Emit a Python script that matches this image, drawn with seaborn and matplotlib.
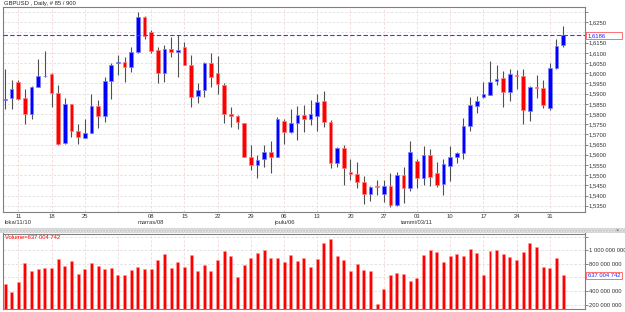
import numpy as np
import pandas as pd
import matplotlib
matplotlib.use("Agg")
import matplotlib.pyplot as plt
import matplotlib.patches as mpatches
import seaborn as sns

# ---------------- data ----------------
opens = [1.5867, 1.5877, 1.5959, 1.5877, 1.5800, 1.5933, 1.5985, 1.5995, 1.5905, 1.5656,
         1.5848, 1.5717, 1.5684, 1.5709, 1.5840, 1.5790, 1.5964, 1.6050, 1.6057, 1.6029,
         1.6106, 1.6278, 1.6204, 1.6114, 1.6003, 1.6119, 1.6106, 1.6127, 1.6041, 1.5889,
         1.5918, 1.6052, 1.6000, 1.5943, 1.5799, 1.5790, 1.5754, 1.5591, 1.5550, 1.5578,
         1.5612, 1.5591, 1.5768, 1.5712, 1.5754, 1.5795, 1.5776, 1.5792, 1.5864, 1.5763,
         1.5561, 1.5632, 1.5514, 1.5507, 1.5465, 1.5408, 1.5449, 1.5408, 1.5447, 1.5354,
         1.5501, 1.5439, 1.5571, 1.5488, 1.5599, 1.5509, 1.5455, 1.5545, 1.5591, 1.5607,
         1.5743, 1.5841, 1.5882, 1.5893, 1.5962, 1.5975, 1.5910, 1.5992, 1.5987, 1.5817,
         1.5931, 1.5926, 1.5828, 1.6024, 1.6139]
highs = [1.6021, 1.5967, 1.5967, 1.5921, 1.5938, 1.6068, 1.6109, 1.6000, 1.5943, 1.5879,
         1.5849, 1.5751, 1.5774, 1.5897, 1.5869, 1.5980, 1.6049, 1.6090, 1.6078, 1.6131,
         1.6299, 1.6283, 1.6212, 1.6131, 1.6139, 1.6180, 1.6188, 1.6155, 1.6090, 1.5951,
         1.6057, 1.6098, 1.6085, 1.5954, 1.5836, 1.5795, 1.5758, 1.5648, 1.5599, 1.5648,
         1.5669, 1.5787, 1.5774, 1.5823, 1.5840, 1.5843, 1.5869, 1.5897, 1.5915, 1.5771,
         1.5640, 1.5648, 1.5578, 1.5566, 1.5496, 1.5447, 1.5476, 1.5476, 1.5509, 1.5517,
         1.5542, 1.5668, 1.5578, 1.5645, 1.5628, 1.5563, 1.5578, 1.5643, 1.5615, 1.5779,
         1.5885, 1.5890, 1.5959, 1.6062, 1.6041, 1.6013, 1.6021, 1.6016, 1.6019, 1.5939,
         1.5992, 1.5967, 1.6052, 1.6167, 1.6232]
lows = [1.5826, 1.5823, 1.5869, 1.5751, 1.5774, 1.5931, 1.5980, 1.5835, 1.5648, 1.5653,
        1.5686, 1.5651, 1.5681, 1.5705, 1.5732, 1.5763, 1.5872, 1.5992, 1.5959, 1.6008,
        1.6101, 1.6167, 1.6101, 1.5951, 1.5959, 1.6082, 1.5983, 1.6039, 1.5836, 1.5853,
        1.5885, 1.5931, 1.5898, 1.5758, 1.5738, 1.5725, 1.5588, 1.5525, 1.5485, 1.5542,
        1.5512, 1.5588, 1.5653, 1.5709, 1.5673, 1.5714, 1.5746, 1.5718, 1.5738, 1.5534,
        1.5542, 1.5452, 1.5476, 1.5435, 1.5359, 1.5375, 1.5403, 1.5370, 1.5346, 1.5349,
        1.5365, 1.5424, 1.5435, 1.5452, 1.5447, 1.5444, 1.5403, 1.5473, 1.5558, 1.5579,
        1.5718, 1.5807, 1.5877, 1.5893, 1.5943, 1.5836, 1.5866, 1.5921, 1.5750, 1.5767,
        1.5880, 1.5828, 1.5820, 1.6021, 1.6127]
closes = [1.5874, 1.5925, 1.5874, 1.5800, 1.5931, 1.5987, 1.5988, 1.5905, 1.5653, 1.5848,
          1.5717, 1.5686, 1.5707, 1.5840, 1.5790, 1.5964, 1.6041, 1.6055, 1.6029, 1.6106,
          1.6278, 1.6185, 1.6111, 1.6003, 1.6118, 1.6106, 1.6114, 1.6042, 1.5885, 1.5918,
          1.6052, 1.5980, 1.5946, 1.5800, 1.5790, 1.5761, 1.5591, 1.5550, 1.5575, 1.5612,
          1.5591, 1.5774, 1.5712, 1.5754, 1.5795, 1.5776, 1.5800, 1.5861, 1.5763, 1.5558,
          1.5632, 1.5534, 1.5507, 1.5465, 1.5408, 1.5440, 1.5444, 1.5447, 1.5354, 1.5501,
          1.5439, 1.5612, 1.5488, 1.5599, 1.5493, 1.5452, 1.5555, 1.5588, 1.5607, 1.5743,
          1.5844, 1.5864, 1.5898, 1.5959, 1.5972, 1.5910, 1.5997, 1.5985, 1.5820, 1.5931,
          1.5926, 1.5844, 1.6028, 1.6134, 1.6186]
volumes_m = [500, 388, 530, 814, 691, 726, 740, 740, 878, 765, 843, 647, 721, 809, 775, 726,
             735, 637, 637, 711, 750, 726, 726, 863, 946, 740, 829, 750, 931, 691, 784, 691,
             863, 990, 917, 613, 784, 882, 956, 1005, 892, 882, 829, 936, 848, 882, 750, 878,
             1113, 1167, 917, 853, 696, 799, 711, 691, 211, 427, 633, 662, 647, 544, 593, 927,
             1010, 971, 833, 912, 946, 917, 1015, 956, 633, 990, 1010, 946, 897, 863, 980, 1113,
             1044, 760, 735, 882, 637.004742]

week_idx = [2, 7, 12, 17, 22, 27, 32, 37, 42, 47, 52, 57, 62, 67, 72, 77, 82]
week_lbl = ["11", "18", "25", "", "08", "15", "22", "29", "06", "13", "20", "27", "03", "10", "17", "24", "31"]
month_idx = [2, 22, 42, 62]
month_lbl = ["loka/11/10", "marras/08", "joulu/06", "tammi/03/11"]

price_ticks = [1.5350, 1.5400, 1.5450, 1.5500, 1.5550, 1.5600, 1.5650, 1.5700, 1.5750,
               1.5800, 1.5850, 1.5900, 1.5950, 1.6000, 1.6050, 1.6100, 1.6150, 1.6200, 1.6250, 1.6300]
vol_ticks_m = [200, 400, 600, 800, 1000, 1200]
last_price = 1.6186
last_volume = 637004742
title = "GBPUSD , Daily, # 85 / 900"

# ---------------- style ----------------
sns.set_style("white")
plt.rcParams["font.family"] = ["Liberation Sans", "DejaVu Sans"]
FS = 4.2
TXT = "#333333"
VGRID = "#f6d6d6"
HGRID = "#dedede"

W, H = 625, 312
fig = plt.figure(figsize=(W / 100, H / 100), dpi=100)
fig.patch.set_facecolor("white")

def box(l, t, r, b):
    return [l / W, 1 - b / H, (r - l) / W, (b - t) / H]

ax = fig.add_axes(box(2.5, 7, 585, 212))
axv = fig.add_axes(box(2.5, 233.5, 585, 309))

n = len(opens)
x = np.arange(n)
df = pd.DataFrame({"x": x, "open": opens, "high": highs, "low": lows, "close": closes,
                   "volume": np.array(volumes_m) * 1e6})
up = df["close"] >= df["open"]

# ---------------- candles ----------------
ax.vlines(df["x"], df["low"], df["high"], color="#505050", lw=0.8, zorder=2)
body_bot = np.minimum(df["open"], df["close"])
body_h = np.maximum((df["close"] - df["open"]).abs(), 0.00028)
ax.bar(df["x"][up], body_h[up], bottom=body_bot[up], width=0.55, color="#0000ff",
       edgecolor="#7f7fff", linewidth=0.5, zorder=3)
ax.bar(df["x"][~up], body_h[~up], bottom=body_bot[~up], width=0.55, color="#ff0000",
       edgecolor="#ff8080", linewidth=0.5, zorder=3)

ax.axhline(last_price, color="#3a3aff", lw=0.8, ls=(0, (4, 2)), zorder=4)

ax.set_xlim(-0.38, 87.3)
ax.set_ylim(1.53192, 1.63251)

ax.set_xticks(week_idx)
ax.set_xticklabels(week_lbl, fontsize=FS, color=TXT)
ax.yaxis.tick_right()
ax.set_yticks(price_ticks)
ax.set_yticklabels([("" if abs(p - 1.62) < 1e-6 or p > 1.626 else f"{p:.4f}".replace(".", ",")) for p in price_ticks],
                   fontsize=FS, color=TXT)
ax.tick_params(axis="x", length=0, pad=1.2)
ax.tick_params(axis="y", length=2, width=0.5, pad=0.8, colors="#555555", labelcolor=TXT)
ax.xaxis.grid(True, color=VGRID, lw=0.6, ls=(0, (3, 2)))
ax.yaxis.grid(True, color=HGRID, lw=0.6, ls=(0, (3, 2)))
ax.set_axisbelow(True)
for s in ax.spines.values():
    s.set_color("#808080")
    s.set_linewidth(0.8)

for i, lbl in zip(month_idx, month_lbl):
    ax.annotate(lbl, xy=(i, 0), xycoords=("data", "axes fraction"), xytext=(0, -7.9),
                textcoords="offset points", ha="center", va="center", fontsize=FS, color=TXT)

# ---------------- volume ----------------
sns.barplot(data=df, x="x", y="volume", ax=axv, native_scale=True, color="#ff0000",
            saturation=1, width=0.45, errorbar=None, edgecolor="#ff9a9a", linewidth=0.4,
            zorder=3)
axv.set_xlim(-0.38, 87.3)
axv.set_ylim(136.8e6, 1247e6)
axv.set_xticks(week_idx)
axv.set_xticklabels([])
axv.set_xlabel("")
axv.set_ylabel("")
axv.yaxis.tick_right()
vt = [v * 1e6 for v in vol_ticks_m]
axv.set_yticks(vt)
axv.set_yticklabels([("" if v in (600, 1200) else f"{v*1000000:,}".replace(",", " ")) for v in vol_ticks_m],
                    fontsize=FS, color=TXT)
axv.tick_params(axis="x", length=0)
axv.tick_params(axis="y", length=2, width=0.5, pad=0.8, colors="#555555", labelcolor=TXT)
axv.xaxis.grid(True, color=VGRID, lw=0.6, ls=(0, (3, 2)))
axv.yaxis.grid(True, color=HGRID, lw=0.6, ls=(0, (3, 2)))
axv.set_axisbelow(True)
for s in axv.spines.values():
    s.set_color("#808080")
    s.set_linewidth(0.8)
axv.text(0.004, 0.985, f"Volume={last_volume:,}".replace(",", " "), transform=axv.transAxes,
         ha="left", va="top", fontsize=FS, color="#ff0000")

# ---------------- decorations ----------------
fig.text(4 / W, 1 - 3.8 / H, title, fontsize=FS, color="#222222", ha="left", va="center")

fig.patches.append(mpatches.Rectangle((0, 1 - 232.5 / H), 1, 5 / H, transform=fig.transFigure,
                                      facecolor="#e4e4e4", edgecolor="#bdbdbd", hatch="......",
                                      lw=0, zorder=0))
fig.text(617 / W, 1 - 230 / H, "×", fontsize=4, color="#555555", ha="center", va="center")

def label_box(y_px, text):
    fig.patches.append(mpatches.Rectangle((586 / W, 1 - (y_px + 3.3) / H), 36 / W, 6.6 / H,
                                          transform=fig.transFigure, facecolor="white",
                                          edgecolor="#ff5a5a", lw=0.6, zorder=5))
    fig.text(587.5 / W, 1 - y_px / H, text, fontsize=FS, color="#2020ff", ha="left",
             va="center", zorder=6)

label_box(35.3, f"{last_price:.4f}".replace(".", ","))
label_box(275.3, f"{last_volume:,}".replace(",", " "))

fig.savefig("out.png", dpi=100, facecolor="white")
